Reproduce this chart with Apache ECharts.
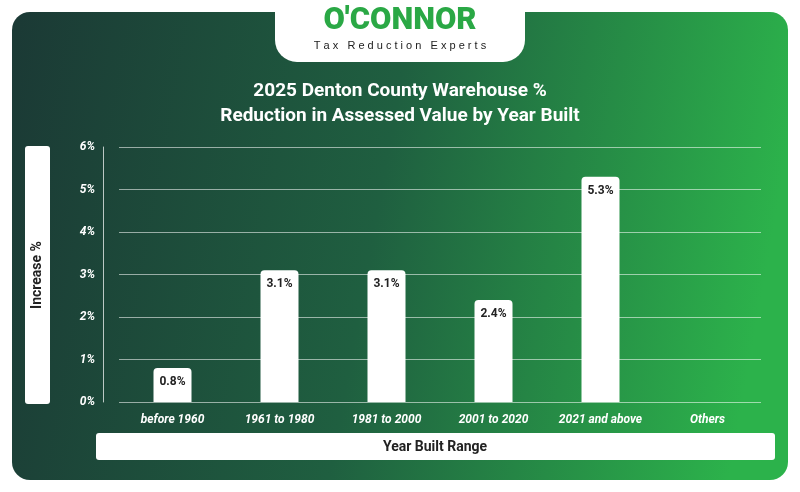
<!DOCTYPE html>
<html><head><meta charset="utf-8">
<script src="https://cdn.jsdelivr.net/npm/echarts@6/dist/echarts.min.js"></script>
<style>html,body{margin:0;padding:0;background:#fff}#c{width:800px;height:492px}</style>
</head><body><div id="c"></div>
<script>
const categories = ['before 1960','1961 to 1980','1981 to 2000','2001 to 2020','2021 and above','Others'];
const values = [0.8, 3.1, 3.1, 2.4, 5.3, null];
const yTicks = [0,1,2,3,4,5,6];
const chart = echarts.init(document.getElementById('c'));
chart.setOption({
  animation:false,
  title:{text:'2025 Denton County Warehouse %\nReduction in Assessed Value by Year Built',left:'center',top:74,
    textStyle:{color:'#fff',fontSize:19,fontWeight:'bold',fontFamily:'Roboto',lineHeight:25}},
  graphic:[
    {type:'rect',z:-10,shape:{x:12,y:12,width:776,height:468,r:18},
     style:{fill:new echarts.graphic.LinearGradient(0,0,1,0.3,[{offset:0,color:'#1b3935'},{offset:0.5,color:'#1f5f40'},{offset:1,color:'#2cb24b'}])}},
    {type:'rect',z:-5,shape:{x:275,y:0,width:250,height:62,r:[0,0,22,22]},style:{fill:'#fff'}},
    {type:'text',left:'center',top:6,style:{text:"O'CONNOR",fill:'#2aa845',font:'900 31px Roboto'}},
    {type:'text',left:'center',top:40,style:{text:'T a x   R e d u c t i o n   E x p e r t s',fill:'#222',font:'500 11px "Liberation Sans"'}},
    {type:'rect',shape:{x:25,y:146,width:25,height:258,r:3},style:{fill:'#fff'}},
    {type:'text',x:37.5,y:275,rotation:Math.PI/2,style:{text:'Increase %',fill:'#222',font:'bold 14px Roboto',align:'center',verticalAlign:'middle'}},
    {type:'rect',shape:{x:96,y:433,width:679,height:27,r:3},style:{fill:'#fff'}},
    {type:'text',x:435,y:447,style:{text:'Year Built Range',fill:'#222',font:'bold 14px Roboto',align:'center',verticalAlign:'middle'}}
  ],
  grid:{left:119,right:39,top:147,bottom:90},
  xAxis:{type:'category',data:categories,axisLine:{show:false},axisTick:{show:false},
    axisLabel:{interval:0,color:'#fff',fontStyle:'italic',fontWeight:'bold',fontSize:12,fontFamily:'Roboto',margin:12}},
  yAxis:{type:'value',min:0,max:6,interval:1,offset:16,
    axisLine:{show:true,lineStyle:{color:'rgba(255,255,255,0.7)'}},
    splitLine:{lineStyle:{color:'rgba(255,255,255,0.55)'}},
    axisLabel:{color:'#fff',fontStyle:'italic',fontWeight:'bold',fontSize:12,fontFamily:'Roboto',formatter:v=>yTicks.includes(v)?v+'%':''}},
  series:[{type:'bar',data:values,barWidth:38,itemStyle:{color:'#fff',borderRadius:[4,4,0,0]},
    label:{show:true,position:'insideTop',distance:8,color:'#222',fontWeight:'bold',fontSize:12,fontFamily:'Roboto',formatter:p=>p.value+'%'}}]
});
</script></body></html>
